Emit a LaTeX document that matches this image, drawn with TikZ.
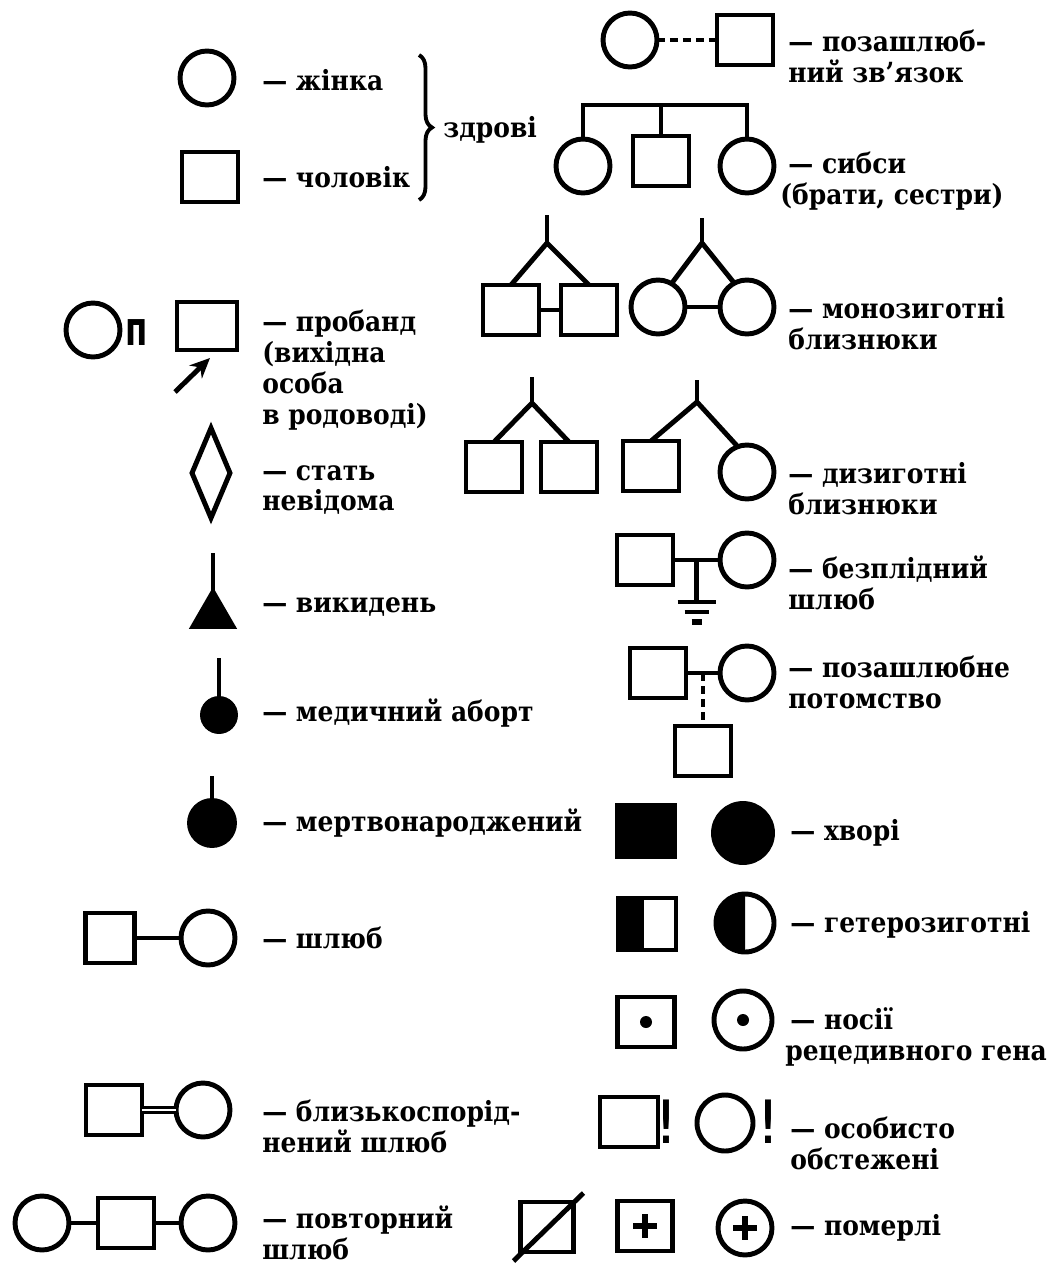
\documentclass[tikz,border=0pt]{standalone}
\usepackage{fontspec}
\usepackage{graphicx}
\setmainfont{DejaVu Serif Condensed}[BoldFont={DejaVu Serif Condensed Bold}]
\newfontfamily\symfont{DejaVu Sans}
\usetikzlibrary{shapes.geometric,decorations.pathreplacing,calc,arrows.meta}
\newcommand\lblfont{\fontsize{15.8}{17.6}\selectfont\bfseries}
\begin{document}
\begin{tikzpicture}[x=0.02cm, y=-0.02cm,
    sym/.style={draw, line width=2.8pt, inner sep=0pt, outer sep=0pt},
    mal/.style={sym, rectangle, minimum width=1.12cm, minimum height=1cm},
    fem/.style={sym, circle, minimum size=1.08cm},
    lbl/.style={anchor=west, align=left, inner sep=0pt, font=\lblfont},
    link/.style={line width=2.8pt},
    dashlink/.style={line width=2.8pt, dash pattern=on 0.16cm off 0.1cm},
    plusmark/.style={line width=3.2pt}]
    \useasboundingbox (0,0) rectangle (1051,1265);
    % Healthy
    \node[fem] (hw) at (207,78) {};
    \node[lbl] (hwl) at (262,80) {— жінка};
    \node[mal] (hmn) at (210,177) {};
    \node[lbl] (hml) at (262,177) {— чоловік};
    \coordinate (brtop) at (419,55);
    \coordinate (brbot) at (419,200);
    \draw[line width=2.2pt, decorate, decoration={brace, amplitude=0.26cm}] (brtop) -- (brbot);
    \node[lbl] (hlt) at (443,130) {здрові};
    % Proband
    \node[fem] (pf) at (93,330) {};
    \node[inner sep=0pt, font=\symfont\bfseries\fontsize{27}{27}\selectfont] (pn) at (137,333) {\scalebox{0.68}[1]{п}};
    \node[mal, minimum width=1.2cm, minimum height=0.96cm] (pm) at (207,326) {};
    \coordinate (pbtail) at (175,392);
    \draw[link, -{Stealth[length=0.4cm, width=0.36cm]}] (pbtail) -- ($(pm.south)+(3,8)$);
    \node[lbl] (pl) at (262,370) {— пробанд\\(вихідна\\особа\\в родоводі)};
    % Unknown sex
    \node[sym, diamond, minimum width=0.76cm, minimum height=1.8cm] (un) at (211,473) {};
    \node[lbl] (unl) at (262,490) {— стать\\невідома};
    % Miscarriage
    \node[sym, fill=black, regular polygon, regular polygon sides=3, minimum size=0.92cm] (mc) at (213,615) {};
    \coordinate (mctop) at (213,553);
    \draw[link] (mctop) -- (mc.corner 1);
    \node[lbl] (mcl) at (262,607) {— викидень};
    % Abortion
    \node[sym, circle, fill=black, minimum size=0.66cm] (ab) at (219,715) {};
    \coordinate (abtop) at (219,658);
    \draw[link] (abtop) -- (ab);
    \node[lbl] (abl) at (262,713) {— медичний аборт};
    % Stillborn
    \node[sym, circle, fill=black, minimum size=0.9cm] (sb) at (212,823) {};
    \coordinate (sbtop) at (212,776);
    \draw[link] (sbtop) -- (sb);
    \node[lbl] (sbl) at (262,823) {— мертвонароджений};
    % Marriage
    \node[mal, minimum width=0.98cm] (wm) at (110,938) {};
    \node[fem] (wf) at (208,938) {};
    \draw[link] (wm) -- (wf);
    \node[lbl] (wl) at (262,938) {— шлюб};
    % Consanguineous marriage
    \node[mal] (km) at (114,1110) {};
    \node[fem] (kf) at (203,1110) {};
    \draw[line width=1.6pt, double, double distance=1.4pt] (km) -- (kf);
    \node[lbl] (kl) at (262,1126) {— близькоспорід-\\нений шлюб};
    % Repeated marriage
    \node[fem] (rf1) at (42,1223) {};
    \node[mal] (rm) at (126,1223) {};
    \node[fem] (rf2) at (208,1223) {};
    \draw[link] (rf1) -- (rm);
    \draw[link] (rm) -- (rf2);
    \node[lbl] (rl) at (262,1233) {— повторний\\шлюб};
    % Extramarital relation
    \node[fem] (xf) at (630,40) {};
    \node[mal] (xm) at (745,40) {};
    \draw[dashlink] (xf) -- (xm);
    \node[lbl] (xl) at (788,56) {— позашлюб-\\ний зв’язок};
    % Siblings
    \node[fem] (s1) at (583,166) {};
    \node[mal] (s2) at (661,161) {};
    \node[fem] (s3) at (747,166) {};
    \coordinate (sibbar) at (663,105);
    \draw[link] (s1.north) -- (s1.north |- sibbar) -- (s3.north |- sibbar) -- (s3.north);
    \draw[link] (s2.north) -- (s2.north |- sibbar);
    \node[lbl] (sl) at (780,181) {\hspace*{0.16cm}— сибси\\(брати, сестри)};
    % Monozygotic twins
    \node[mal] (q1) at (511,310) {};
    \node[mal] (q2) at (589,310) {};
    \coordinate (mzatop) at (547,215);
    \coordinate (mzafork) at (547,243);
    \draw[link] (mzatop) -- (mzafork);
    \draw[link] (q1.north) -- (mzafork) -- (q2.north);
    \draw[link] (q1) -- (q2);
    \node[fem] (c1) at (658,307) {};
    \node[fem] (c2) at (747,307) {};
    \coordinate (mzbtop) at (702,218);
    \coordinate (mzbfork) at (702,243);
    \draw[link] (mzbtop) -- (mzbfork);
    \draw[link] (c1.60) -- (mzbfork) -- (c2.118);
    \draw[link] (c1) -- (c2);
    \node[lbl] (mzl) at (788,324) {— монозиготні\\близнюки};
    % Dizygotic twins
    \node[mal] (q3) at (494,467) {};
    \node[mal] (q4) at (569,467) {};
    \coordinate (dzatop) at (532,377);
    \coordinate (dzafork) at (532,403);
    \draw[link] (dzatop) -- (dzafork);
    \draw[link] (q3.north) -- (dzafork) -- (q4.north);
    \node[mal] (q5) at (651,466) {};
    \node[fem] (c3) at (747,472) {};
    \coordinate (dzbtop) at (697,380);
    \coordinate (dzbfork) at (697,402);
    \draw[link] (dzbtop) -- (dzbfork);
    \draw[link] (q5.north) -- (dzbfork) -- (c3.110);
    \node[lbl] (dzl) at (788,489) {— дизиготні\\близнюки};
    % Infertile marriage
    \node[mal] (fm) at (645,560) {};
    \node[fem] (ff) at (747,560) {};
    \draw[link] (fm) -- (ff);
    \coordinate (fmid) at ($(fm.east)!0.5!(ff.west)$);
    \coordinate (fgnd) at ($(fmid)+(0,42)$);
    \draw[link] (fmid) -- (fgnd);
    \draw[link] ($(fgnd)+(-19,0)$) -- ($(fgnd)+(19,0)$);
    \draw[link] ($(fgnd)+(-12,10)$) -- ($(fgnd)+(12,10)$);
    \draw[line width=3.6pt] ($(fgnd)+(-5,20)$) -- ($(fgnd)+(5,20)$);
    \node[lbl] (fl) at (788,583) {— безплідний\\шлюб};
    % Extramarital offspring
    \node[mal] (om) at (658,673) {};
    \node[fem] (of) at (747,673) {};
    \draw[link] (om) -- (of);
    \coordinate (omid) at ($(om.east)!0.5!(of.west)$);
    \node[mal] (oc) at (omid |- 0,751) {};
    \draw[dashlink] (omid) -- (oc);
    \node[lbl] (ol) at (788,682) {— позашлюбне\\потомство};
    % Affected
    \node[mal, fill=black, minimum width=1.16cm, minimum height=1.04cm] (am) at (646,831) {};
    \node[fem, fill=black, minimum size=1.18cm] (af) at (743,833) {};
    \node[lbl] (al) at (790,833) {— хворі};
    % Heterozygous
    \node[mal, minimum width=1.16cm, minimum height=1.04cm] (hm) at (647,924) {};
    \fill (hm.north west) rectangle ($(hm.south)+(-3,0)$);
    \node[fem, minimum size=1.16cm] (hf) at (745,923) {};
    \fill (hf.south) arc[start angle=270, end angle=90, radius=0.58cm] -- cycle;
    \node[lbl] (hl) at (790,925) {— гетерозиготні};
    % Carriers
    \node[mal, minimum width=1.14cm] (cm) at (646,1022) {};
    \fill (cm.center) circle[radius=0.12cm];
    \node[fem, minimum size=1.16cm] (cf) at (743,1020) {};
    \fill (cf.center) circle[radius=0.12cm];
    \node[lbl] (cl) at (785,1037) {\hspace*{0.1cm}— носії\\рецедивного гена};
    % Examined
    \node[mal, minimum width=1.16cm] (em) at (629,1122) {};
    \node[inner sep=0pt, font=\symfont\fontsize{34}{34}\selectfont] (ex1) at (666,1122) {!};
    \node[fem, minimum size=1.12cm] (ef) at (725,1123) {};
    \node[inner sep=0pt, font=\symfont\fontsize{34}{34}\selectfont] (ex2) at (768,1122) {!};
    \node[lbl] (el) at (790,1143) {— особисто\\обстежені};
    % Deceased
    \node[mal, minimum width=1.06cm] (dm) at (547,1227) {};
    \draw[link] ($(dm.south west)+(-7,9)$) -- ($(dm.north east)+(10,-9)$);
    \node[mal, minimum width=1.1cm] (dp) at (645,1226) {};
    \draw[plusmark] ($(dp.center)+(-12,0)$) -- ($(dp.center)+(12,0)$);
    \draw[plusmark] ($(dp.center)+(0,-12)$) -- ($(dp.center)+(0,12)$);
    \node[fem] (df) at (745,1228) {};
    \draw[plusmark] ($(df.center)+(-12,0)$) -- ($(df.center)+(12,0)$);
    \draw[plusmark] ($(df.center)+(0,-12)$) -- ($(df.center)+(0,12)$);
    \node[lbl] (dl) at (790,1228) {— померлі};
\end{tikzpicture}
\end{document}
